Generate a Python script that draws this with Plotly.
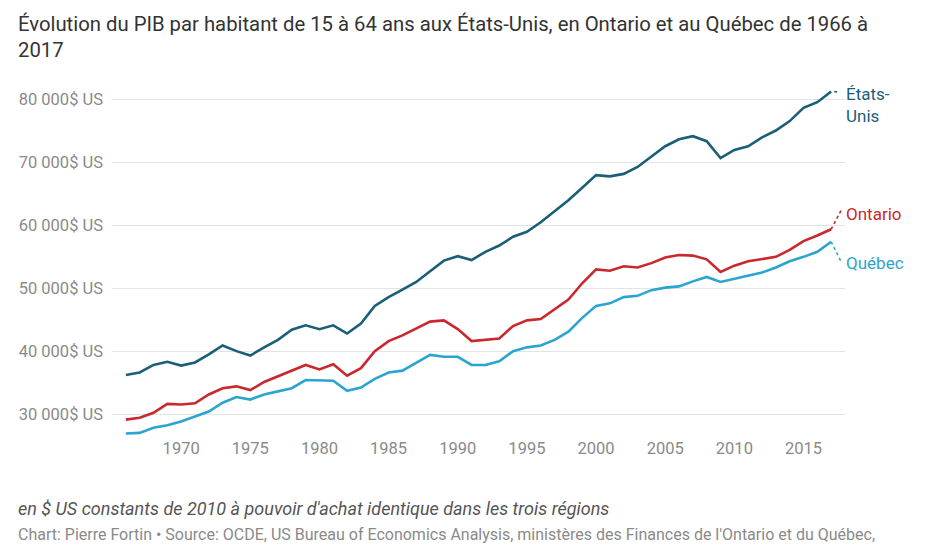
import plotly.graph_objects as go

years = list(range(1966, 2018))

etats_unis = [
    36200, 36600, 37800, 38300, 37700, 38200, 39500, 40900, 40000, 39300,
    40600, 41800, 43400, 44100, 43500, 44100, 42800, 44400, 47200, 48600,
    49800, 51000, 52700, 54400, 55100, 54500, 55800, 56800, 58200, 59000,
    60500, 62200, 64000, 66000, 68000, 67800, 68200, 69300, 71000, 72600,
    73700, 74200, 73400, 70700, 72000, 72600, 74000, 75100, 76600, 78700,
    79600, 81300,
]
ontario = [
    29100, 29400, 30200, 31600, 31500, 31700, 33100, 34100, 34400, 33800,
    35100, 36000, 37000, 37800, 37100, 37900, 36100, 37300, 40000, 41600,
    42500, 43600, 44700, 44900, 43500, 41600, 41800, 42000, 44000, 44900,
    45100, 46600, 48200, 50800, 53000, 52800, 53500, 53300, 54000, 54900,
    55300, 55200, 54600, 52600, 53600, 54300, 54600, 55000, 56100, 57500,
    58400, 59400,
]
quebec = [
    26900, 27000, 27800, 28200, 28800, 29600, 30400, 31800, 32700, 32300,
    33100, 33600, 34100, 35400, 35400, 35300, 33700, 34200, 35600, 36600,
    36900, 38100, 39400, 39100, 39100, 37800, 37800, 38400, 40000, 40600,
    40900, 41800, 43100, 45300, 47200, 47600, 48600, 48800, 49700, 50100,
    50300, 51100, 51800, 51000, 51500, 52100, 52500, 53300, 54300, 55000,
    55800, 57400,
]

y_ticks = [30000, 40000, 50000, 60000, 70000, 80000]
y_labels = ["30 000$ US", "40 000$ US", "50 000$ US", "60 000$ US", "70 000$ US", "80 000$ US"]
x_ticks = [1970, 1975, 1980, 1985, 1990, 1995, 2000, 2005, 2010, 2015]

# name, values, colour, leader (x0, x1, y1 in px), label yshift in px
series = [
    ("États-<br>Unis", etats_unis, "#1b5e78", (3, 9, -1), -13),
    ("Ontario", ontario, "#c8282e", (0, 10, 19), 15),
    ("Québec", quebec, "#2ba5cf", (0, 10, -20), -21),
]

fig = go.Figure()
for name, vals, color, leader, label_dy in series:
    fig.add_trace(go.Scatter(
        x=years, y=vals, mode="lines", name=name,
        line=dict(color=color, width=2.6),
        hoverinfo="x+y",
    ))
    # dotted leader from the last point to the label
    fig.add_shape(
        type="line", xref="x", yref="y",
        xsizemode="pixel", ysizemode="pixel",
        xanchor=years[-1], yanchor=vals[-1],
        x0=leader[0], x1=leader[1], y0=0, y1=leader[2],
        line=dict(color=color, width=1.6, dash="dot"),
    )
    fig.add_annotation(
        x=years[-1], y=vals[-1], xref="x", yref="y",
        text=name, showarrow=False,
        xanchor="left", yanchor="middle", align="left",
        xshift=13, yshift=label_dy,
        font=dict(family="Roboto", size=17, color=color),
    )

fig.add_annotation(
    text="Évolution du PIB par habitant de 15 à 64 ans aux États-Unis, en Ontario et au Québec de 1966 à<br>2017",
    xref="paper", yref="paper", x=-0.131, y=1.0, yshift=74,
    xanchor="left", yanchor="top", align="left", showarrow=False,
    font=dict(family="Roboto", size=20.3, color="#333333"),
)
fig.add_annotation(
    text="<i>en $ US constants de 2010 à pouvoir d'achat identique dans les trois régions</i>",
    xref="paper", yref="paper", x=-0.131, y=0, yshift=-72,
    xanchor="left", yanchor="middle", align="left", showarrow=False,
    font=dict(family="Roboto", size=18, color="#555555"),
)
fig.add_annotation(
    text="Chart: Pierre Fortin • Source: OCDE, US Bureau of Economics Analysis, ministères des Finances de l'Ontario et du Québec,",
    xref="paper", yref="paper", x=-0.131, y=0, yshift=-98,
    xanchor="left", yanchor="middle", align="left", showarrow=False,
    font=dict(family="Roboto", size=16, color="#8a8a8a"),
)

fig.update_layout(
    width=928, height=546,
    margin=dict(l=104, r=91, t=76, b=118),
    plot_bgcolor="white", paper_bgcolor="white",
    showlegend=False,
    font=dict(family="Roboto", color="#888888"),
)
fig.update_xaxes(
    range=[1965, 2018], tickvals=x_ticks,
    showgrid=False, zeroline=False, showline=False, ticks="",
    tickfont=dict(family="Roboto", size=16.5, color="#8a8a8a"),
)
fig.update_yaxes(
    range=[26500, 82500], tickvals=y_ticks, ticktext=y_labels,
    showgrid=True, gridcolor="#e3e3e3", gridwidth=1,
    zeroline=False, showline=False, ticks="", ticklabelstandoff=8,
    tickfont=dict(family="Roboto", size=16.5, color="#8a8a8a"),
)

fig.write_html("out.html")
